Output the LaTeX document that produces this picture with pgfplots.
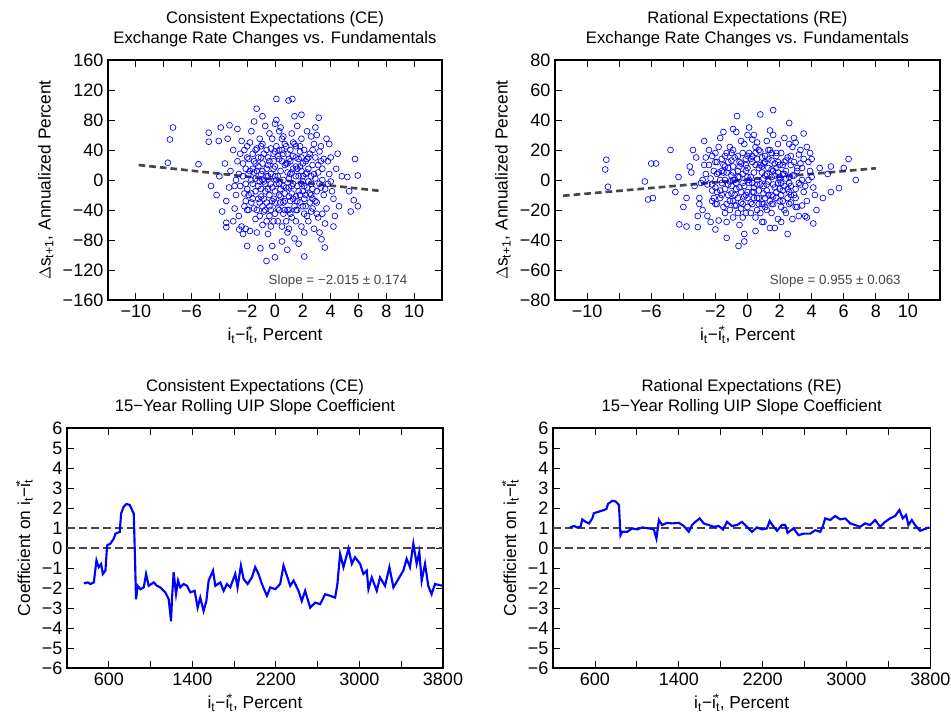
\documentclass[border=0pt]{standalone}
\usepackage{fontspec}
\setmainfont{Liberation Sans}
\usepackage{pgfplots}
\pgfplotsset{compat=1.18}
\definecolor{fitgray}{RGB}{70,70,70}
\newcommand{\idiff}{i\textsubscript{t}−i\textsubscript{t}\kern-0.33em\textsuperscript{*}}
\pgfplotsset{
  base/.style={scale only axis, height=180pt, anchor=south west,
    axis line style={line width=1.1pt}, major tick length=5pt, minor tick length=5pt,
    tick style={black, line width=0.6pt},
    tick label style={font=\fontsize{13.5}{15}\selectfont},
    label style={font=\fontsize{13}{15}\selectfont},
    title style={font=\fontsize{12.5}{15}\selectfont, align=center},
    /pgf/number format/assume math mode=true, /pgf/number format/1000 sep={}},
  sc/.style={only marks, mark=o, mark size=2.2pt, color=blue, mark options={line width=0.5pt}},
  fit/.style={fitgray, dashed, line width=2pt, dash pattern=on 5pt off 3pt, no marks},
  ref/.style={fitgray, dashed, line width=1.1pt, dash pattern=on 6pt off 3pt, no marks},
  roll/.style={blue, line width=1.6pt, no marks},
  topx/.style={xmin=-12, xmax=12, xtick={-10,-6,-2,0,2,4,6,8,10},
    xticklabels={−10,−6,−2,0,2,4,6,8,10}, minor xtick={-12,-8,-4,12},
    xlabel={\idiff, Percent}},
  botx/.style={xmin=200, xmax=3800, xtick={600,1400,2200,3000,3800}, minor xtick={200,1000,1800,2600,3400},
    ymin=-6, ymax=6, ytick={-6,...,6}, yticklabels={−6,−5,−4,−3,−2,−1,0,1,2,3,4,5,6},
    xlabel={\idiff, Percent},
    ylabel={Coefficient on \idiff}},
}
\begin{document}
\begin{tikzpicture}
\useasboundingbox (0,0) rectangle (713.25pt,539.25pt);
% ---------------- top left
\begin{axis}[base, topx, at={(81pt,314.25pt)}, width=250.5pt,
  ymin=-160, ymax=160, ytick={-160,-120,...,160},
  yticklabels={−160,−120,−80,−40,0,40,80,120,160},
  ylabel={$\Delta$s\textsubscript{t+1}, Annualized Percent},
  title={Consistent Expectations (CE)\\Exchange Rate Changes vs. Fundamentals}]
\addplot[sc] coordinates {
(-7.33,70)(-7.55,54)(-7.7,23)(-5.5,21)(-4.76,63)(-4.76,51)(-4.04,52)(-3.9,70)(-4.6,-8)(-3.27,73)(-1.32,95)(0.1,108)(0.97,106)(1.25,108)(1.9,87)(3.14,83)(5.75,28)(5.95,6)(5.95,-35)(5.66,-27)(5.44,-42)(4.2,-62)(3.58,-90)(3.34,-79)(2.1,-102)(0.88,-93)(0,-103)(-0.61,-108)(-1.05,-91)(-3.5,-63)(-3.5,-57)(-2.57,-66)(-2.1,-65)(5.2,4)(4.5,35)(5.33,-15)
(-3.2,12)(-2.8,-20)(-2.5,35)(-2.1,-5)(-1.8,50)(-1.5,-38)(-1.2,18)(-0.9,-60)(-0.6,5)(-0.3,42)(0,-15)(0.3,28)(0.6,-45)(0.9,10)(1.2,62)(1.5,-22)(1.8,38)(2.1,-8)(2.4,-55)(2.7,20)(3.0,-30)(3.3,45)(3.6,-12)(3.9,8)(4.2,-25)
(-3.5,-28)(-3.0,40)(-2.6,-48)(-2.3,22)(-2.0,-12)(-1.7,65)(-1.4,2)(-1.1,-30)(-0.8,35)(-0.5,-72)(-0.2,55)(0.1,-5)(0.4,70)(0.7,-28)(1.0,-65)(1.3,15)(1.6,-40)(1.9,55)(2.2,8)(2.5,-18)(2.8,48)(3.1,-50)(3.4,15)(3.7,-38)(4.0,30)
(-4.0,5)(-3.4,55)(-2.9,-8)(-2.4,-62)(-1.9,28)(-1.6,-25)(-1.3,42)(-1.0,-12)(-0.7,72)(-0.4,-35)(-0.1,15)(0.2,-55)(0.5,40)(0.8,-10)(1.1,25)(1.4,-78)(1.7,5)(2.0,-35)(2.3,65)(2.6,-42)(2.9,2)(3.2,-70)(3.5,28)(3.8,-5)(4.4,15)
(-3.8,-42)(-3.3,-10)(-2.7,68)(-2.2,-35)(-1.9,8)(-1.5,78)(-1.1,-48)(-0.8,-2)(-0.5,20)(-0.2,-88)(0.1,80)(0.4,-22)(0.7,48)(1.0,-40)(1.3,-5)(1.6,72)(1.9,-62)(2.2,-20)(2.5,35)(2.8,-65)(3.1,10)(3.4,-45)(3.7,55)(4.1,-15)(4.6,-35)
(-3.0,-55)(-2.6,8)(-2.3,-72)(-2.0,45)(-1.7,-18)(-1.4,-52)(-1.0,30)(-0.7,-40)(-0.4,62)(-0.1,-25)(0.2,32)(0.5,-82)(0.8,22)(1.1,-28)(1.4,48)(1.7,-15)(2.0,22)(2.3,-48)(2.6,58)(2.9,-28)(3.2,38)(3.5,-20)(3.8,25)(4.3,-48)(4.8,5)
(-2.4,52)(-2.1,-28)(-1.8,-68)(-1.5,10)(-1.2,-8)(-0.9,48)(-0.6,-55)(-0.3,8)(0,38)(0.3,-40)(0.6,58)(0.9,-70)(1.2,-18)(1.5,30)(1.8,-30)(2.1,40)(2.4,-2)(2.7,-38)(3.0,60)(3.3,-10)(-0.2,-10)(0.4,12)(1.0,2)(1.6,-8)(-1.0,-22)
(-2.7,25)(-2.2,-18)(-1.6,35)(-1.3,-70)(-0.8,-25)(-0.4,25)(0,-45)(0.3,65)(0.6,-8)(0.9,35)(1.2,-50)(1.5,5)(1.8,18)(2.1,-70)(2.4,30)(2.7,-12)(3.0,-45)(3.3,25)(0.1,0)(0.7,-18)(-0.6,15)(1.3,32)(-1.9,-40)(2.0,-2)(-2.9,-38)
(-1.4,22)(-0.9,12)(-0.5,-12)(0,18)(0.4,-30)(0.8,45)(1.1,8)(1.5,-55)(1.9,12)(2.3,28)(-1.1,55)(-0.3,-62)(0.5,-62)(1.7,-85)(2.6,-5)(-2.0,-88)(3.6,-58)(4.0,-2)(-3.6,22)(-4.2,-20)(1.4,85)(0.0,75)(-0.9,85)(2.9,70)(3.9,48)
(-2.3,5)(-2.0,30)(-1.7,-30)(-1.4,40)(-1.1,-2)(-0.8,-42)(-0.5,30)(-0.2,-28)(0.1,45)(0.4,-12)(0.7,20)(1.0,-22)(1.3,50)(1.6,-28)(1.9,-5)(2.2,25)(2.5,-30)(2.8,8)(-1.6,-5)(-0.9,22)(-0.3,-5)(0.3,-20)(0.9,-40)(1.5,18)(2.1,-45)
(-2.5,-8)(-2.2,40)(-1.9,-20)(-1.6,15)(-1.3,-40)(-1.0,8)(-0.7,-15)(-0.4,-48)(-0.1,35)(0.2,5)(0.5,25)(0.8,-55)(1.1,40)(1.4,-35)(1.7,28)(2.0,-15)(2.3,10)(2.6,-20)(2.9,30)(3.2,-5)(-1.2,30)(-0.6,-30)(0.6,35)(1.2,-8)(1.8,-20)
(-2.0,-40)(-1.8,12)(-1.5,25)(-1.2,-25)(-0.9,0)(-0.6,40)(-0.3,-40)(0,5)(0.3,40)(0.6,-30)(0.9,22)(1.2,10)(1.5,-40)(1.8,45)(2.1,-25)(2.4,15)(2.7,40)(3.0,-15)(-0.1,-55)(0.5,55)(1.0,-10)(-1.4,-15)(2.2,-35)(3.4,0)(-2.8,0)
(-1.7,0)(-1.3,12)(-0.9,-35)(-0.5,5)(-0.1,25)(0.3,-5)(0.7,-40)(1.1,-45)(1.5,45)(1.9,30)(2.3,-10)(2.7,-25)(-1.0,45)(0.0,-30)(1.0,28)(2.0,5)(-0.4,-20)(0.6,0)(1.6,15)(2.6,5)(-2.1,15)(3.1,20)(-0.7,-5)(0.2,-38)(1.3,-25)
};
\addplot[fit] coordinates {(-9.8,20)(7.6,-14.6)};
\node[anchor=east, fitgray, font=\fontsize{10}{12}\selectfont] at (rel axis cs:0.91,0.08) {Slope = −2.015 ± 0.174};
\end{axis}
% ---------------- top right
\begin{axis}[base, topx, at={(416.25pt,314.25pt)}, width=288.75pt,
  ymin=-80, ymax=80, ytick={-80,-60,...,80},
  yticklabels={−80,−60,−40,−20,0,20,40,60,80},
  ylabel={$\Delta$s\textsubscript{t+1}, Annualized Percent},
  title={Rational Expectations (RE)\\Exchange Rate Changes vs. Fundamentals}]
\addplot[sc] coordinates {
(-8.8,13.5)(-8.87,7)(-8.7,-4.5)(-6.4,-1)(-6,11)(-5.7,11)(-6.2,-13)(-5.9,-12)(-0.65,42.6)(0.8,43.7)(1.6,46.6)(2.6,38)(3.5,31)(6.3,14)(6.75,0)(6,8)(5.7,-5.4)(4.1,-29)(3.7,-25)(2.5,-36)(-0.2,-41)(-0.56,-44)(-1.3,-38.6)(-4.25,-29.6)(-3.8,-31)(-3.1,-31.4)(-4.8,20)(5.2,9)(5.2,-8)
(-3.5,5)(-3.0,-12)(-2.6,15)(-2.2,-3)(-1.8,22)(-1.5,-18)(-1.2,8)(-0.9,-25)(-0.6,2)(-0.3,18)(0,-8)(0.3,12)(0.6,-20)(0.9,5)(1.2,26)(1.5,-10)(1.8,16)(2.1,-2)(2.4,-22)(2.7,10)(3.0,-12)(3.3,20)(3.6,-4)(3.9,6)(4.2,-10)
(-3.8,-12)(-3.2,15)(-2.8,-20)(-2.4,10)(-2.0,-5)(-1.7,28)(-1.4,0)(-1.1,-14)(-0.8,15)(-0.5,-30)(-0.2,24)(0.1,-2)(0.4,30)(0.7,-12)(1.0,-28)(1.3,8)(1.6,-16)(1.9,24)(2.2,4)(2.5,-6)(2.8,22)(3.1,-18)(3.4,8)(3.7,-14)(4.0,14)
(-4.3,2)(-3.4,20)(-2.9,-2)(-2.5,-24)(-1.9,12)(-1.6,-10)(-1.3,18)(-1.0,-4)(-0.7,32)(-0.4,-15)(-0.1,6)(0.2,-22)(0.5,18)(0.8,-3)(1.1,12)(1.4,-32)(1.7,3)(2.0,-14)(2.3,28)(2.6,-16)(2.9,3)(3.2,-24)(3.5,14)(3.8,0)(4.5,8)
(-4.0,-18)(-3.3,-4)(-2.7,26)(-2.2,-14)(-1.9,4)(-1.5,32)(-1.1,-20)(-0.8,0)(-0.5,9)(-0.2,-36)(0.1,35)(0.4,-8)(0.7,20)(1.0,-16)(1.3,-1)(1.6,30)(1.9,-26)(2.2,-7)(2.5,15)(2.8,-26)(3.1,6)(3.4,-17)(3.7,22)(4.1,-5)(4.7,-12)
(-3.1,-24)(-2.6,4)(-2.3,-28)(-2.0,18)(-1.7,-7)(-1.4,-22)(-1.0,13)(-0.7,-17)(-0.4,26)(-0.1,-10)(0.2,14)(0.5,-34)(0.8,10)(1.1,-12)(1.4,20)(1.7,-5)(2.0,10)(2.3,-20)(2.6,24)(2.9,-10)(3.2,17)(3.5,-8)(3.8,12)(4.3,-20)(5.0,4)
(-2.4,20)(-2.1,-12)(-1.8,-27)(-1.5,5)(-1.2,-3)(-0.9,20)(-0.6,-22)(-0.3,4)(0,16)(0.3,-16)(0.6,25)(0.9,-28)(1.2,-7)(1.5,13)(1.8,-12)(2.1,18)(2.4,1)(2.7,-15)(3.0,25)(3.3,-3)(-0.2,-4)(0.4,5)(1.0,1)(1.6,-3)(-1.0,-9)
(-2.7,10)(-2.2,-7)(-1.6,14)(-1.3,-28)(-0.8,-10)(-0.4,11)(0,-18)(0.3,27)(0.6,-3)(0.9,15)(1.2,-20)(1.5,2)(1.8,8)(2.1,-28)(2.4,13)(2.7,-4)(3.0,-18)(3.3,11)(0.1,0)(0.7,-7)(-0.6,6)(1.3,14)(-1.9,-16)(2.0,0)(-3.0,-16)
(-1.4,9)(-0.9,5)(-0.5,-5)(0,8)(0.4,-12)(0.8,19)(1.1,3)(1.5,-22)(1.9,5)(2.3,12)(-1.1,22)(-0.3,-25)(0.5,-25)(1.7,-32)(2.6,-2)(-2.0,-33)(3.6,-24)(4.0,2)(-3.6,9)(-4.5,-8)(1.4,33)(0.0,30)(-0.9,34)(2.9,28)(3.9,18)
(-2.3,1)(-2.0,12)(-1.7,-12)(-1.4,16)(-1.1,-1)(-0.8,-17)(-0.5,12)(-0.2,-11)(0.1,18)(0.4,-5)(0.7,8)(1.0,-9)(1.3,20)(1.6,-11)(1.9,-2)(2.2,10)(2.5,-12)(2.8,3)(-1.6,-2)(-0.9,9)(-0.3,-2)(0.3,-8)(0.9,-16)(1.5,7)(2.1,-18)
(-2.5,-3)(-2.2,16)(-1.9,-8)(-1.6,6)(-1.3,-16)(-1.0,3)(-0.7,-6)(-0.4,-19)(-0.1,14)(0.2,2)(0.5,10)(0.8,-22)(1.1,16)(1.4,-14)(1.7,11)(2.0,-6)(2.3,4)(2.6,-8)(2.9,12)(3.2,-2)(-1.2,12)(-0.6,-12)(0.6,14)(1.2,-3)(1.8,-8)
(-2.0,-16)(-1.8,5)(-1.5,10)(-1.2,-10)(-0.9,0)(-0.6,16)(-0.3,-16)(0,2)(0.3,16)(0.6,-12)(0.9,9)(1.2,4)(1.5,-16)(1.8,18)(2.1,-10)(2.4,6)(2.7,16)(3.0,-6)(-0.1,-22)(0.5,22)(1.0,-4)(-1.4,-6)(2.2,-14)(3.4,0)(-2.8,0)
(-1.7,0)(-1.3,5)(-0.9,-14)(-0.5,2)(-0.1,10)(0.3,-2)(0.7,-16)(1.1,-18)(1.5,18)(1.9,12)(2.3,-4)(2.7,-10)(-1.0,18)(0.0,-12)(1.0,11)(2.0,2)(-0.4,-8)(0.6,0)(1.6,6)(2.6,2)(-2.1,6)(3.1,8)(-0.7,-2)(0.2,-15)(1.3,-10)
};
\addplot[fit] coordinates {(-11.5,-10.5)(8,7.8)};
\node[anchor=east, fitgray, font=\fontsize{10}{12}\selectfont] at (rel axis cs:0.91,0.08) {Slope = 0.955 ± 0.063};
\end{axis}
% ---------------- bottom left
\begin{axis}[base, botx, at={(50.25pt,38.25pt)}, width=282pt,
  title={Consistent Expectations (CE)\\15−Year Rolling UIP Slope Coefficient}]
\addplot[ref] coordinates {(200,1)(3800,1)};
\addplot[ref] coordinates {(200,0)(3800,0)};
\addplot[roll] coordinates {
(361,-1.77)(399,-1.72)(425,-1.8)(457,-1.72)(482,-0.62)(504,-0.96)(527,-0.8)(543,-1.3)(568,-1.13)(584,0.13)(616,0.22)(648,0.47)(664,0.72)(705,0.8)(718,1.73)(743,2.07)(769,2.2)(801,2.15)(823,1.9)(839,1.73)(849,-0.12)(861,-2.56)(877,-1.89)(903,-2.06)(935,-1.97)(957,-1.3)(982,-1.89)(1030,-1.72)(1062,-1.89)(1094,-1.97)(1142,-2.22)(1174,-2.56)(1196,-3.66)(1206,-2.48)(1221,-1.21)(1244,-2.3)(1263,-1.63)(1285,-1.97)(1317,-1.8)(1349,-1.89)(1381,-2.22)(1422,-2.14)(1451,-2.98)(1476,-2.48)(1508,-3.15)(1534,-2.65)(1556,-1.63)(1598,-1.13)(1620,-1.89)(1668,-1.72)(1700,-2.14)(1731,-1.8)(1763,-1.97)(1811,-1.3)(1833,-1.97)(1865,-0.88)(1891,-1.55)(1929,-1.8)(1970,-1.47)(2002,-0.96)(2034,-1.3)(2066,-1.8)(2114,-2.39)(2146,-1.97)(2194,-2.06)(2241,-1.8)(2273,-0.88)(2305,-1.38)(2337,-1.89)(2369,-1.63)(2417,-2.14)(2448,-2.65)(2480,-2.14)(2528,-2.98)(2576,-2.73)(2624,-2.81)(2672,-2.31)(2719,-2.39)(2767,-2.48)(2789,-1.8)(2815,-0.29)(2847,-0.96)(2895,-0.03)(2927,-0.79)(2958,-0.46)(3006,-0.79)(3038,-1.3)(3070,-1.13)(3086,-2.06)(3118,-1.47)(3166,-2.14)(3197,-1.47)(3245,-1.89)(3287,-0.96)(3325,-1.97)(3373,-1.55)(3420,-1.13)(3452,-0.54)(3484,-0.96)(3516,0.22)(3548,-0.79)(3573,-0.2)(3596,-1.63)(3628,-0.79)(3659,-1.89)(3691,-2.31)(3723,-1.8)(3796,-1.89)
};
\end{axis}
% ---------------- bottom right
\begin{axis}[base, botx, at={(414.75pt,38.25pt)}, width=283pt,
  title={Rational Expectations (RE)\\15−Year Rolling UIP Slope Coefficient}]
\addplot[ref] coordinates {(200,1)(3800,1)};
\addplot[ref] coordinates {(200,0)(3800,0)};
\addplot[roll] coordinates {
(362,1.03)(400,1.1)(432,1.03)(463,1.06)(479,1.43)(511,1.31)(543,1.23)(575,1.48)(590,1.74)(638,1.82)(686,1.9)(711,1.96)(724,2.2)(765,2.36)(797,2.33)(829,2.16)(844,0.64)(860,0.81)(908,0.81)(956,0.98)(1003,0.93)(1051,1.03)(1114,0.98)(1162,0.93)(1187,0.47)(1210,1.4)(1241,1.15)(1289,1.26)(1337,1.23)(1400,1.26)(1448,1.1)(1495,0.81)(1527,1.15)(1559,1.31)(1600,1.48)(1638,1.23)(1686,1.15)(1733,1.06)(1781,1.1)(1822,0.93)(1860,1.31)(1908,1.1)(1956,1.15)(2003,1.31)(2051,1.06)(2099,0.81)(2146,1.03)(2194,0.93)(2241,0.98)(2267,1.35)(2305,1.06)(2337,0.86)(2384,1.15)(2416,1.15)(2438,0.76)(2495,0.98)(2543,0.64)(2591,0.72)(2654,0.72)(2702,0.89)(2750,0.81)(2775,1.1)(2797,1.48)(2845,1.4)(2892,1.6)(2940,1.43)(2988,1.48)(3035,1.23)(3083,1.15)(3130,1.06)(3178,1.23)(3226,1.15)(3273,1.4)(3321,1.06)(3369,1.31)(3416,1.48)(3464,1.6)(3505,1.9)(3537,1.48)(3569,1.65)(3591,1.15)(3623,1.4)(3654,1.15)(3702,0.86)(3788,1.03)
};
\end{axis}
\end{tikzpicture}
\end{document}
